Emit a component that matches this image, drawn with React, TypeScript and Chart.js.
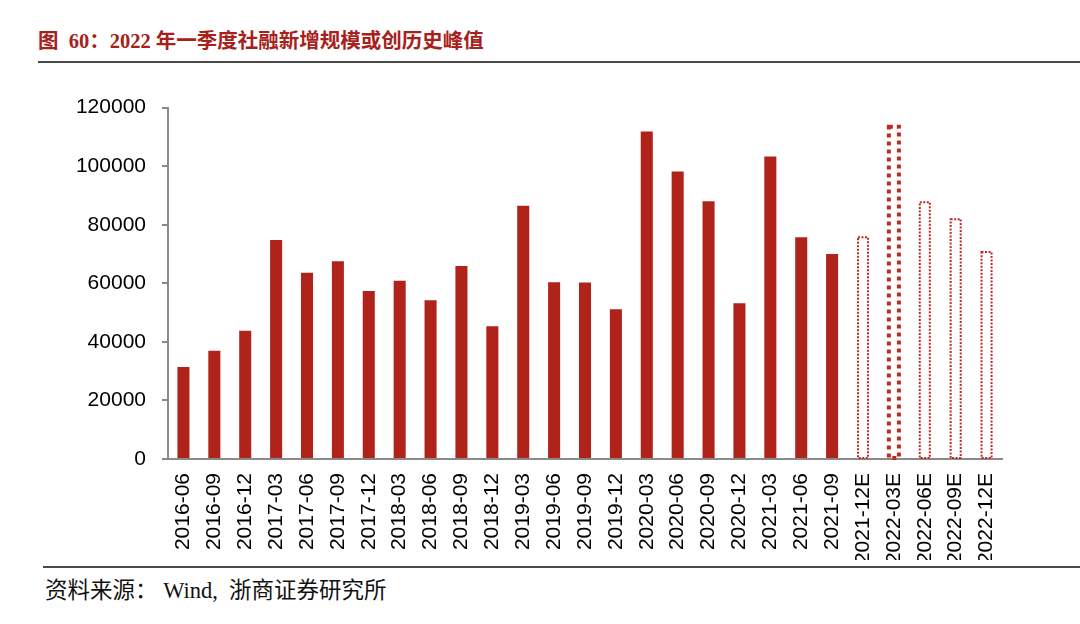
import React, { useEffect, useRef } from "react";
import { Chart, registerables } from "chart.js";

Chart.register(...registerables);

const categories = [
  "2016-06", "2016-09", "2016-12", "2017-03", "2017-06", "2017-09", "2017-12",
  "2018-03", "2018-06", "2018-09", "2018-12", "2019-03", "2019-06", "2019-09",
  "2019-12", "2020-03", "2020-06", "2020-09", "2020-12", "2021-03", "2021-06",
  "2021-09", "2021-12E", "2022-03E", "2022-06E", "2022-09E", "2022-12E",
];

const values = [
  31400, 37000, 43800, 74800, 63600, 67500, 57400,
  60900, 54200, 65900, 45300, 86500, 60400, 60300,
  51100, 111800, 98200, 88000, 53200, 103300, 75700,
  70000, 75700, 113500, 87700, 81900, 70700,
];

const isEstimate = categories.map((c) => c.endsWith("E"));
const highlighted = categories.map((c) => c === "2022-03E");

const yTicks = [0, 20000, 40000, 60000, 80000, 100000, 120000];

const TITLE = "图  60：2022 年一季度社融新增规模或创历史峰值";
const SOURCE = "资料来源： Wind,  浙商证券研究所";

const BAR_RED = "#B0231A";
const DOT_RED = "#BE2B22";

const dottedBars = {
  id: "dottedBars",
  afterDatasetsDraw(chart: any) {
    const ctx = chart.ctx;
    const meta = chart.getDatasetMeta(0);
    meta.data.forEach((el: any, i: number) => {
      if (!isEstimate[i]) return;
      const p = el.getProps(["x", "y", "base", "width"], true);
      const thick = highlighted[i];
      ctx.save();
      ctx.strokeStyle = DOT_RED;
      ctx.lineWidth = thick ? 4 : 2;
      ctx.setLineDash(thick ? [4, 4] : [2, 1.5]);
      const left = p.x - p.width / 2 + 1;
      const right = p.x + p.width / 2 - 1;
      ctx.strokeRect(left, p.y, right - left, p.base - p.y);
      ctx.restore();
    });
  },
};

export default function App() {
  const ref = useRef<HTMLCanvasElement | null>(null);

  useEffect(() => {
    if (!ref.current) return;
    const chart = new Chart(ref.current, {
      type: "bar",
      data: {
        labels: categories,
        datasets: [
          {
            data: values,
            backgroundColor: values.map((_, i) => (isEstimate[i] ? "rgba(0,0,0,0)" : BAR_RED)),
            borderWidth: 0,
            barPercentage: 0.39,
            categoryPercentage: 1,
          },
        ],
      },
      options: {
        responsive: false,
        animation: false,
        devicePixelRatio: 1,
        layout: { padding: { top: 0, right: 78, left: 0, bottom: 0 } },
        plugins: {
          legend: { display: false },
          tooltip: { enabled: false },
          title: { display: false },
        },
        scales: {
          x: {
            grid: { display: false, drawTicks: false },
            border: { display: true, color: "#8a8a8a", width: 2 },
            ticks: {
              autoSkip: false,
              minRotation: 90,
              maxRotation: 90,
              padding: 14,
              color: "#000",
              font: { family: "'Liberation Sans', Arial, sans-serif", size: 21 },
            },
            afterFit: (s: any) => {
              s.height = 101;
            },
          },
          y: {
            min: 0,
            max: 120000,
            afterBuildTicks: (s: any) => {
              s.ticks = yTicks.map((v) => ({ value: v }));
            },
            grid: {
              display: true,
              drawOnChartArea: false,
              drawTicks: true,
              tickLength: 6,
              color: "#8a8a8a",
              lineWidth: 2,
            },
            border: { display: true, color: "#8a8a8a", width: 2 },
            ticks: {
              padding: 16,
              color: "#000",
              font: { family: "'Liberation Sans', Arial, sans-serif", size: 21 },
              callback: (v: any) => String(v),
            },
            afterFit: (s: any) => {
              s.width = 168;
            },
          },
        },
      },
      plugins: [dottedBars],
    });
    return () => chart.destroy();
  }, []);

  return (
    <div
      style={{
        position: "absolute",
        left: 0,
        top: 0,
        width: 1080,
        height: 624,
        background: "#fff",
        overflow: "hidden",
      }}
    >
      <div
        style={{
          position: "absolute",
          left: 38,
          top: 28,
          fontFamily: "'Liberation Serif', 'Noto Sans CJK SC', serif",
          fontWeight: "bold",
          fontSize: 20.5,
          lineHeight: "26px",
          color: "#A8201A",
          whiteSpace: "pre",
        }}
      >
        {TITLE}
      </div>
      <div
        style={{
          position: "absolute",
          left: 38,
          right: 0,
          top: 61,
          height: 2,
          background: "#4a4a4a",
        }}
      />
      <canvas
        ref={ref}
        width={1080}
        height={481}
        style={{ position: "absolute", left: 0, top: 79, width: 1080, height: 481 }}
      />
      <div
        style={{
          position: "absolute",
          left: 43,
          right: 0,
          top: 566,
          height: 2,
          background: "#4a4a4a",
        }}
      />
      <div
        style={{
          position: "absolute",
          left: 45,
          top: 577,
          fontFamily: "'Liberation Serif', 'Noto Sans CJK SC', serif",
          fontSize: 22.5,
          lineHeight: "28px",
          color: "#111",
          whiteSpace: "pre",
        }}
      >
        {SOURCE}
      </div>
    </div>
  );
}
